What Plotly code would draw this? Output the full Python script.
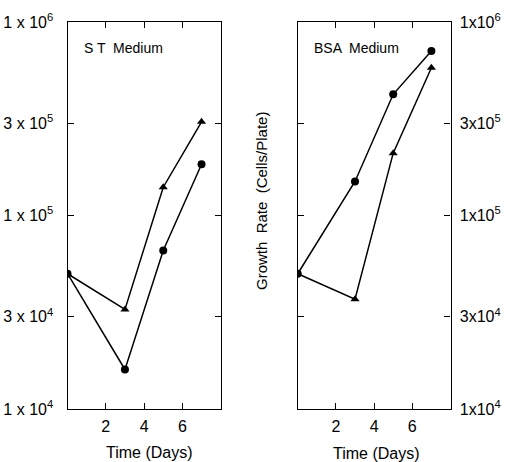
import plotly.graph_objects as go

days = [0, 3, 5, 7]
st_circle = [50000, 16000, 66000, 184000]
st_triangle = [50000, 32700, 140000, 305000]
bsa_circle = [50000, 150000, 423000, 708000]
bsa_triangle = [50000, 36900, 210000, 580000]

ytick_vals = [1e4, 3e4, 1e5, 3e5, 1e6]
ytick_text_left = ["1 x 10<sup>4</sup>", "3 x 10<sup>4</sup>", "1 x 10<sup>5</sup>",
                   "3 x 10<sup>5</sup>", "1 x 10<sup>6</sup>"]
ytick_text_right = ["1x10<sup>4</sup>", "3x10<sup>4</sup>", "1x10<sup>5</sup>",
                    "3x10<sup>5</sup>", "1x10<sup>6</sup>"]
xtick_vals = [2, 4, 6]
xtick_text = ["2", "4", "6"]

W, H = 505, 462
FONT = "Liberation Sans"

fig = go.Figure()

def add_series(x, y, symbol, xa, ya):
    fig.add_trace(go.Scatter(
        x=x, y=y, mode="lines+markers", xaxis=xa, yaxis=ya,
        line=dict(color="black", width=1.5),
        marker=dict(symbol=symbol, size=8, color="black"),
        showlegend=False, hoverinfo="skip"))

add_series(days, st_circle, "circle", "x", "y")
add_series(days, st_triangle, "triangle-up", "x", "y")
add_series(days, bsa_circle, "circle", "x2", "y2")
add_series(days, bsa_triangle, "triangle-up", "x2", "y2")

ydom = [1 - 409 / H, 1 - 22 / H]
xdom1 = [67.5 / W, 220.7 / W]
xdom2 = [297.7 / W, 450.5 / W]

common_x = dict(range=[0, 8], tickvals=xtick_vals, ticktext=xtick_text,
                ticks="inside", ticklen=6, tickwidth=1.2, tickcolor="black",
                showline=True, linecolor="black", linewidth=1.2, mirror="ticks",
                showgrid=False, zeroline=False, automargin=False,
                tickfont=dict(family=FONT, size=16, color="black"),
                ticklabelstandoff=3)
common_y = dict(type="log", range=[4, 6], tickvals=ytick_vals,
                ticks="inside", ticklen=6, tickwidth=1.2, tickcolor="black",
                showline=True, linecolor="black", linewidth=1.2, mirror="ticks",
                showgrid=False, zeroline=False, automargin=False,
                tickfont=dict(family=FONT, size=16, color="black"))

fig.update_layout(
    width=W, height=H,
    margin=dict(l=0, r=0, t=0, b=0, autoexpand=False),
    paper_bgcolor="white", plot_bgcolor="white",
    xaxis=dict(domain=xdom1, anchor="y", **common_x),
    xaxis2=dict(domain=xdom2, anchor="y2", **common_x),
    yaxis=dict(domain=ydom, anchor="x", side="left", ticklabelstandoff=10,
               ticktext=ytick_text_left, **common_y),
    yaxis2=dict(domain=ydom, anchor="x2", side="right", ticklabelstandoff=5,
                ticktext=ytick_text_right, **common_y),
    annotations=[
        dict(text="S T  Medium", x=82 / W, y=1 - 48 / H, xref="paper", yref="paper",
             xanchor="left", yanchor="middle", showarrow=False,
             font=dict(family=FONT, size=14, color="black")),
        dict(text="BSA  Medium", x=312 / W, y=1 - 48 / H, xref="paper", yref="paper",
             xanchor="left", yanchor="middle", showarrow=False,
             font=dict(family=FONT, size=14, color="black")),
        dict(text="Time (Days)", x=149 / W, y=1 - 452 / H, xref="paper", yref="paper",
             xanchor="center", yanchor="middle", showarrow=False,
             font=dict(family=FONT, size=16, color="black")),
        dict(text="Time (Days)", x=376 / W, y=1 - 453 / H, xref="paper", yref="paper",
             xanchor="center", yanchor="middle", showarrow=False,
             font=dict(family=FONT, size=16, color="black")),
        dict(text="Growth  Rate  (Cells/Plate)", x=261 / W, y=1 - 201 / H,
             xref="paper", yref="paper", textangle=-90,
             xanchor="center", yanchor="middle", showarrow=False,
             font=dict(family=FONT, size=15, color="black")),
    ],
)

fig.write_html("out.html", config={"displayModeBar": False},
               post_script="document.body.style.margin='0px';")
